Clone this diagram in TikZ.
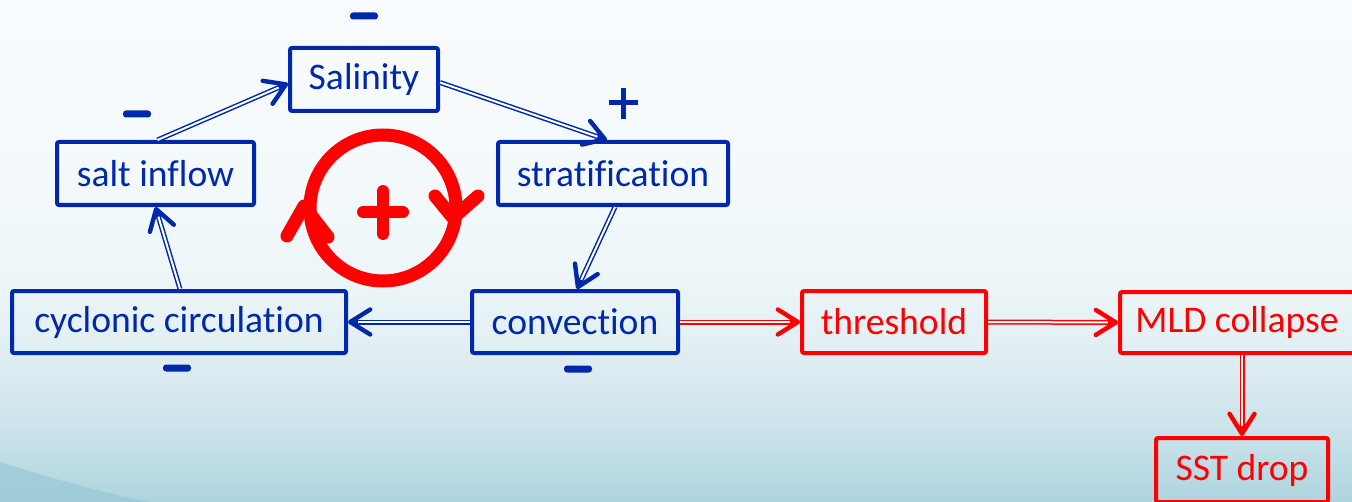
\documentclass[tikz,border=0pt]{standalone}
\usepackage{fontspec}
\setmainfont{Carlito}[Ligatures={NoCommon}]
\usetikzlibrary{arrows.meta,calc}
\definecolor{bblue}{RGB}{0,40,170}
\definecolor{rred}{RGB}{255,0,0}
\definecolor{bgA}{HTML}{AED4DF}
\definecolor{bgB}{HTML}{C6E1E8}
\definecolor{bgC}{HTML}{DAEAF0}
\definecolor{bgD}{HTML}{EAF4F7}
\definecolor{bgE}{HTML}{F3F9FB}
\definecolor{bgF}{HTML}{F9FCFE}
\definecolor{wave}{HTML}{94C5D2}
\pgfdeclareverticalshading{bgshade}{100bp}{color(0bp)=(bgA); color(25bp)=(bgA); color(31bp)=(bgB); color(37bp)=(bgC); color(45bp)=(bgD); color(55bp)=(bgE); color(75bp)=(bgF); color(100bp)=(bgF)}
\newcommand\myconn[3]{\draw[#1shaft] #2 -- #3; \draw[#1tip] ($#3!5pt!#2$) -- #3;}
\tikzset{
  bbox/.style={draw=bblue, line width=2pt, text=bblue, rectangle, rounded corners=1pt, inner sep=0pt},
  rbox/.style={draw=rred, line width=2pt, text=rred, rectangle, rounded corners=1pt, inner sep=0pt},
  bshaft/.style={draw=bblue, line width=0.75pt, double=white, double distance=1pt, shorten >=2pt},
  rshaft/.style={draw=rred, line width=0.75pt, double=white, double distance=1pt, shorten >=2pt},
  btip/.style={draw=bblue, line width=2.2pt, -{Straight Barb[length=10pt,width=12.5pt,round]}},
  rtip/.style={draw=rred, line width=2.2pt, -{Straight Barb[length=10pt,width=12.5pt,round]}},
  minus/.style={fill=bblue, rectangle, rounded corners=1.5pt, minimum width=14pt, minimum height=3.5pt, inner sep=0pt}
}
\begin{document}
\begin{tikzpicture}[x=0.5pt, y=-0.5pt, font=\fontsize{18.8}{22}\selectfont]
\useasboundingbox (0,0) rectangle (1352,502);
\shade[shading=bgshade] (0,0) rectangle (1352,502);
\fill[wave, opacity=0.6] (0,462) .. controls (50,478) and (100,492) .. (150,502) -- (0,502) -- cycle;
% nodes
\node[bbox, minimum width=74pt, minimum height=31.5pt] (sal) at (364,79.5) {Salinity};
\node[bbox, minimum width=98.5pt, minimum height=31.5pt] (salt) at (155.5,173.5) {salt inflow};
\node[bbox, minimum width=115pt, minimum height=31.5pt] (strat) at (613,173.5) {stratification};
\node[bbox, minimum width=167pt, minimum height=31pt] (cyc) at (179,322) {cyclonic circulation};
\node[bbox, minimum width=103pt, minimum height=31pt] (conv) at (575,322) {convection};
\node[rbox, minimum width=92pt, minimum height=31pt] (thr) at (894,322) {threshold};
\node[rbox, minimum width=117pt, minimum height=30.5pt] (mld) at (1237,322.5) {MLD collapse};
\node[rbox, minimum width=86pt, minimum height=32pt] (sst) at (1242,470) {SST drop};
% signs
\node[minus] (m1) at (364,16) {};
\node[minus] (m2) at (137,114) {};
\node[minus] (m3) at (177,368) {};
\node[minus] (m4) at (578,369) {};
\draw[bblue, line width=2.5pt] (609,103) -- (638,103) (623,88) -- (623,119);
% red loop
\draw[rred, line width=6.5pt] (383,208) circle[radius=36.5pt];
\draw[rred, line width=6.5pt, line cap=round, line join=round]
  (287,236) -- (304,206) -- (328,237)
  (435,196) -- (453,218) -- (478,196);
\draw[rred, line width=6pt, line cap=round] (363,212) -- (403,212) (383,191) -- (383,234);
% connectors
\myconn{b}{([xshift=1pt]salt.north)}{([yshift=-2pt]sal.west)}
\myconn{b}{([yshift=-1.5pt]sal.east)}{([xshift=-3pt]strat.north)}
\myconn{b}{([xshift=1pt]strat.south)}{([xshift=1pt]conv.north)}
\myconn{b}{(conv.west)}{(cyc.east)}
\myconn{b}{([xshift=0.5pt]cyc.north)}{(salt.south)}
\myconn{r}{(conv.east)}{(thr.west)}
\myconn{r}{(thr.east)}{(mld.west)}
\myconn{r}{(sst.north |- mld.south)}{(sst.north)}
\end{tikzpicture}
\end{document}
